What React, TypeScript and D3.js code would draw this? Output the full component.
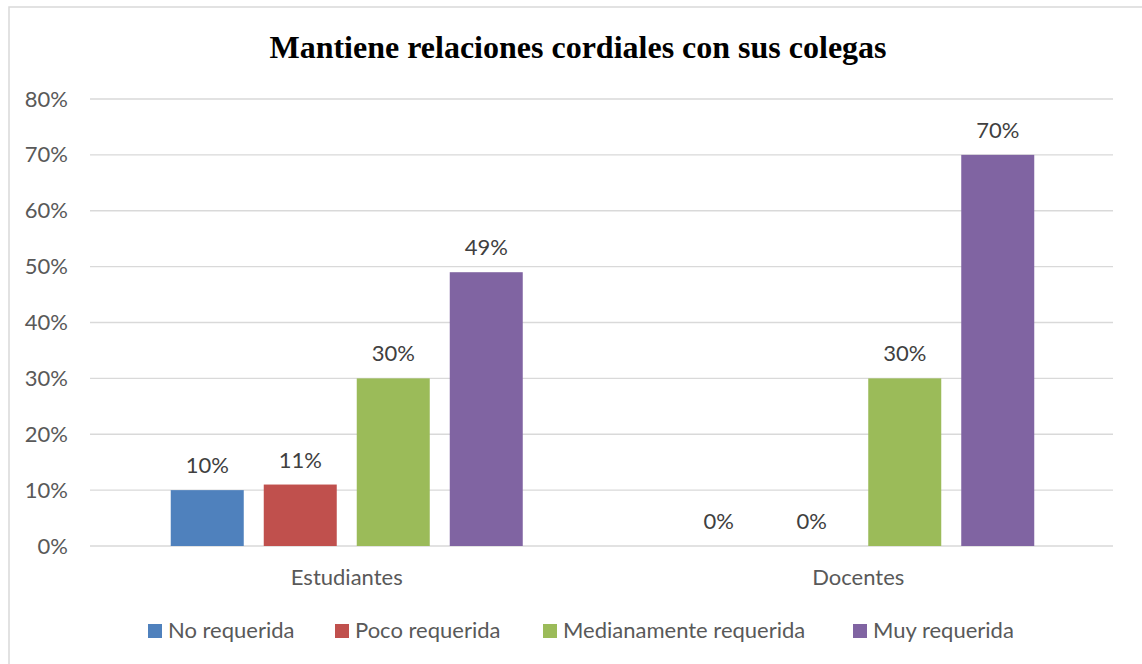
import React from "react";
import * as d3 from "d3";

const categories = ["Estudiantes", "Docentes"];
const seriesNames = ["No requerida", "Poco requerida", "Medianamente requerida", "Muy requerida"];
const estudiantes = [0.10, 0.11, 0.30, 0.49];
const docentes = [0.0, 0.0, 0.30, 0.70];
const yTicks = [0, 0.1, 0.2, 0.3, 0.4, 0.5, 0.6, 0.7, 0.8];
const colors = ["#4F81BD", "#C0504D", "#9BBB59", "#8064A2"];
const title = "Mantiene relaciones cordiales con sus colegas";

const W = 1142, H = 664;
const plot = { left: 90, right: 1113, top: 99, bottom: 546 };
const FONT = "Lato, 'Open Sans', sans-serif";

export default function App() {
  const values = [estudiantes, docentes];
  const y = d3.scaleLinear().domain([0, 0.8]).range([plot.bottom, plot.top]);
  const x0 = d3.scaleBand().domain(categories).range([plot.left, plot.right]).paddingInner(0).paddingOuter(0);
  const groupW = 4 * 73 + 3 * 20;
  const x1 = d3.scaleBand().domain(seriesNames).range([0, groupW]).paddingInner(20 / 93).paddingOuter(0);
  const fmt = d3.format(".0%");
  const legendX = [148, 335, 543, 853];
  return (
    <svg width={W} height={H} style={{ position: "absolute", left: 0, top: 0, background: "#fff" }}>
      <rect x={9} y={7} width={W + 10} height={H + 10} fill="#fff" stroke="#D9D9D9" strokeWidth={1.5} />
      <text x={578} y={58} textAnchor="middle" fontFamily="'Liberation Serif', 'Times New Roman', serif" fontWeight="bold" fontSize={32} fill="#000">{title}</text>
      {yTicks.map((t) => (
        <g key={t}>
          <line x1={plot.left} x2={plot.right} y1={y(t)} y2={y(t)} stroke="#D9D9D9" strokeWidth={1.3} />
          <text x={68} y={y(t) + 7.5} textAnchor="end" fontFamily={FONT} fontSize={22} fill="#595959">{fmt(t)}</text>
        </g>
      ))}
      {categories.map((c, ci) => {
        const gx = x0(c)! + (x0.bandwidth() - groupW) / 2 + 1;
        return (
          <g key={c}>
            {seriesNames.map((s, si) => {
              const v = values[ci][si];
              const bx = gx + x1(s)!;
              const bw = x1.bandwidth();
              return (
                <g key={s}>
                  {v > 0 && <rect x={bx} y={y(v)} width={bw} height={plot.bottom - y(v)} fill={colors[si]} />}
                  <text x={bx + bw / 2} y={y(v) - 17} textAnchor="middle" fontFamily={FONT} fontSize={22} fill="#404040">{fmt(v)}</text>
                </g>
              );
            })}
            <text x={x0(c)! + x0.bandwidth() / 2 + 1} y={585} textAnchor="middle" fontFamily={FONT} fontSize={22} fill="#595959">{c}</text>
          </g>
        );
      })}
      {seriesNames.map((s, i) => (
        <g key={s}>
          <rect x={legendX[i]} y={624} width={14} height={14} fill={colors[i]} />
          <text x={legendX[i] + 20} y={638} fontFamily={FONT} fontSize={22} fill="#595959">{s}</text>
        </g>
      ))}
    </svg>
  );
}
